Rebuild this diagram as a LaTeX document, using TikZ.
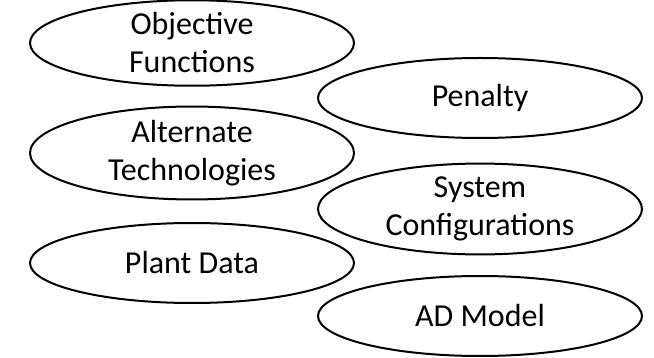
\documentclass[tikz,border=0pt]{standalone}
\usepackage{fontspec}
\setmainfont{Carlito}
\usetikzlibrary{shapes.geometric}

\tikzset{
  topic/.style={ellipse, draw, line width=2pt, minimum width=324pt, minimum height=80pt,
    inner sep=0pt, align=center, font=\fontsize{32}{38}\selectfont}
}

\begin{document}
\begin{tikzpicture}[x=1pt,y=1pt]
\useasboundingbox (0,0) rectangle (654,-358);
% left column
\node[topic] (objective) at (192,-43) {Objective\\Functions};
\node[topic] (alternate) at (192,-153) {Alternate\\Technologies};
\node[topic] (plantdata) at (192,-263) {Plant Data};
% right column
\node[topic] (penalty) at (480,-98) {Penalty};
\node[topic] (sysconf) at (480,-209) {System\\Configurations};
\node[topic] (admodel) at (480,-316) {AD Model};
\end{tikzpicture}
\end{document}
